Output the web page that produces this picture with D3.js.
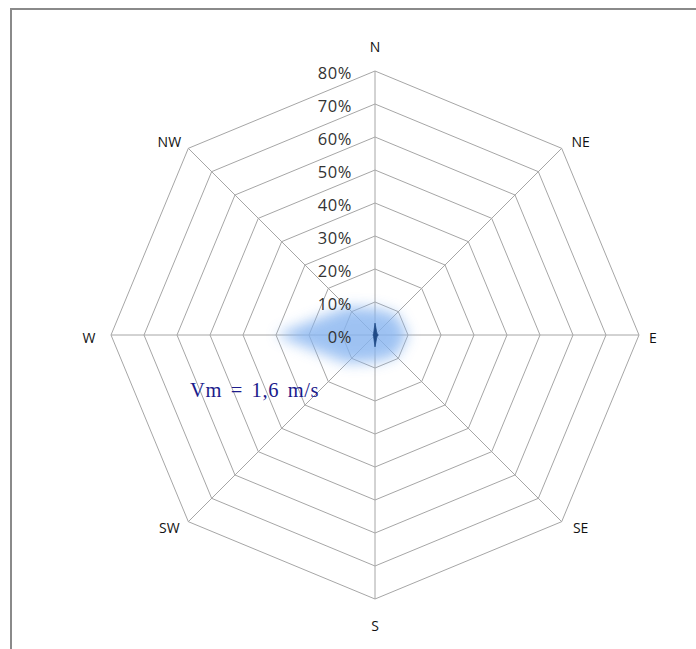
<!DOCTYPE html>
<html>
<head>
<meta charset="utf-8">
<script src="https://cdn.jsdelivr.net/npm/d3@7"></script>
<style>
  html, body { margin: 0; padding: 0; background: #fff; }
  svg { display: block; }
</style>
</head>
<body>
<svg id="chart" width="696" height="649"></svg>
<script>
// Wind directions (clockwise from north)
const directions = ["N", "NE", "E", "SE", "S", "SW", "W", "NW"];
// Frequency of each direction, in %
const frequency = [3.6, 0.8, 1.0, 0.8, 3.6, 0.6, 0.6, 0.6];
// Soft halo drawn under the series, in %
const halo = [8, 9, 10, 9, 8, 12, 30, 12];
// Ring values and their labels
const ringValues = [0, 10, 20, 30, 40, 50, 60, 70, 80];
const ringLabels = ["0%", "10%", "20%", "30%", "40%", "50%", "60%", "70%", "80%"];
const meanSpeed = "Vm = 1,6 m/s";

const svg = d3.select("#chart");
const cx = 375, cy = 335, R = 264;

const r = d3.scaleLinear().domain([0, 80]).range([0, R]);
const angle = d3.scalePoint().domain(directions).range([0, 2 * Math.PI * 7 / 8]);

const defs = svg.append("defs");
defs.append("filter").attr("id", "soft")
  .attr("x", "-50%").attr("y", "-50%").attr("width", "200%").attr("height", "200%")
  .append("feGaussianBlur").attr("stdDeviation", 7);

// Frame
svg.append("rect").attr("x", 11).attr("y", 9).attr("width", 700).attr("height", 660)
  .attr("fill", "none").attr("stroke", "#8a8a8a").attr("stroke-width", 2);

const g = svg.append("g").attr("transform", `translate(${cx},${cy})`);

const radial = d3.lineRadial()
  .angle((d, i) => angle(directions[i]))
  .radius(d => r(d))
  .curve(d3.curveLinearClosed);

// Grid rings
g.selectAll("path.ring").data(ringValues.filter(v => v > 0)).enter()
  .append("path").attr("class", "ring")
  .attr("d", v => radial(directions.map(() => v)))
  .attr("fill", "none").attr("stroke", "#a6a6a6").attr("stroke-width", 1);

// Spokes
g.selectAll("line.spoke").data(directions).enter()
  .append("line").attr("class", "spoke")
  .attr("x1", 0).attr("y1", 0)
  .attr("x2", d => r(80) * Math.sin(angle(d)))
  .attr("y2", d => -r(80) * Math.cos(angle(d)))
  .attr("stroke", "#a6a6a6").attr("stroke-width", 1);

// Halo
g.append("path")
  .attr("d", radial(halo))
  .attr("fill", "#86b4f0").attr("opacity", 0.8)
  .attr("filter", "url(#soft)");

// Series
g.append("path")
  .attr("d", radial(frequency))
  .attr("fill", "#1f4a86").attr("stroke", "#1f4a86").attr("stroke-width", 0.8);

// Ring labels
g.selectAll("text.tick").data(ringValues).enter()
  .append("text").attr("class", "tick")
  .attr("x", -23).attr("y", v => -r(v) + 2)
  .attr("dy", "0.35em").attr("text-anchor", "end")
  .attr("font-family", "'Open Sans', 'Liberation Sans', sans-serif")
  .attr("font-size", 16.5).attr("letter-spacing", 0.6).attr("fill", "#333")
  .text((v, i) => ringLabels[i]);

// Direction labels, placed just outside the outer ring
const labelPos = d => {
  const a = angle(d), s = Math.sin(a), c = Math.cos(a);
  const ax = Math.abs(s) < 0.01 ? 0 : Math.sign(s);
  const ay = Math.abs(c) < 0.01 ? 0 : Math.sign(c);
  if (ax === 0) return [0, -(R + (ay > 0 ? 24 : 27)) * c];
  if (ay === 0) return [ax * (R + (ax > 0 ? 14 : 22)), 3];
  return [s * R + ax * 19, -c * R - ay * 6];
};
g.selectAll("text.dir").data(directions).enter()
  .append("text").attr("class", "dir")
  .attr("x", d => labelPos(d)[0])
  .attr("y", d => labelPos(d)[1])
  .attr("dy", "0.35em").attr("text-anchor", "middle")
  .attr("font-family", "'Open Sans', 'Liberation Sans', sans-serif")
  .attr("font-size", 14).attr("fill", "#111")
  .text(d => d);

// Mean speed annotation
svg.append("text").attr("x", 190).attr("y", 397)
  .attr("font-family", "'Liberation Serif', 'Times New Roman', serif")
  .attr("font-size", 20.5).attr("letter-spacing", 0.6).attr("word-spacing", 3)
  .attr("fill", "#1c1c8c")
  .text(meanSpeed);
</script>
</body>
</html>
